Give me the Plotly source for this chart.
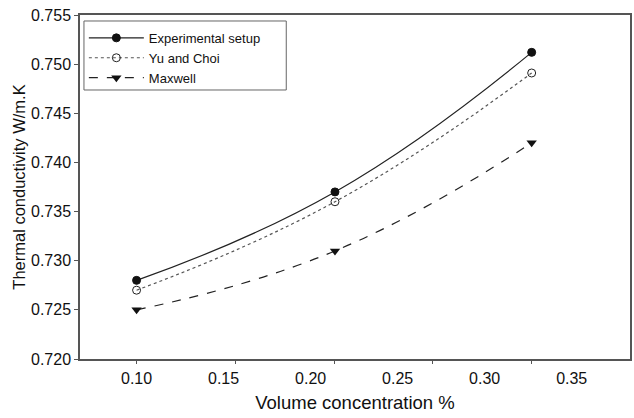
import plotly.graph_objects as go

# Data (x positions read against the tick-label scale of the original figure)
conc = [0.10, 0.214, 0.327]
experimental = [0.728, 0.737, 0.7512]
yu_choi = [0.727, 0.736, 0.7491]
maxwell = [0.725, 0.731, 0.742]

xtick_vals = [0.10, 0.15, 0.20, 0.25, 0.30, 0.35]
xtick_text = ["0.10", "0.15", "0.20", "0.25", "0.30", "0.35"]
xtick_marks = [0.10, 0.157, 0.214, 0.270, 0.327]
ytick_vals = [0.720, 0.725, 0.730, 0.735, 0.740, 0.745, 0.750, 0.755]

xr = [0.0675, 0.3835]
yr = [0.720, 0.755]
font = "Liberation Sans, Arial, Helvetica, sans-serif"

fig = go.Figure()
fig.add_trace(go.Scatter(
    x=conc, y=experimental, name="Experimental setup", mode="lines+markers",
    line=dict(color="#222", width=1.2, shape="spline", smoothing=1.3),
    marker=dict(symbol="circle", size=8, color="#111", line=dict(color="#111", width=1))))
fig.add_trace(go.Scatter(
    x=conc, y=yu_choi, name="Yu and Choi", mode="lines+markers",
    line=dict(color="#555", width=1.2, dash="dot", shape="spline", smoothing=1.3),
    marker=dict(symbol="circle-open", size=8, color="#222", line=dict(width=1))))
fig.add_trace(go.Scatter(
    x=conc, y=maxwell, name="Maxwell", mode="lines+markers",
    line=dict(color="#222", width=1.2, dash="dash", shape="spline", smoothing=1.3),
    marker=dict(symbol="triangle-down", size=9, color="#111")))
# invisible trace on overlay axis to carry its tick marks
fig.add_trace(go.Scatter(x=[xr[0]], y=[yr[0]], xaxis="x2", mode="markers",
                         marker=dict(opacity=0), showlegend=False, hoverinfo="skip"))

fig.update_layout(
    width=634, height=418,
    margin=dict(l=80, r=2, t=15, b=59),
    paper_bgcolor="white", plot_bgcolor="white",
    font=dict(family=font, color="#111", size=16),
    xaxis=dict(range=xr, tickvals=xtick_vals, ticktext=xtick_text,
               ticks="outside", ticklen=4, tickcolor="rgba(0,0,0,0)",
               showgrid=False, zeroline=False, showline=True, linecolor="#555",
               linewidth=1.5, mirror=True, tickfont=dict(size=16),
               title=dict(text="Volume concentration %", font=dict(size=18.5), standoff=10)),
    xaxis2=dict(range=xr, overlaying="x", anchor="y", side="bottom", tickvals=xtick_marks,
                showticklabels=False, ticks="outside", ticklen=4, tickcolor="#555",
                showgrid=False, zeroline=False, showline=False),
    yaxis=dict(range=yr, tickvals=ytick_vals, tickformat=".3f", ticks="outside",
               ticklen=4, tickcolor="#555", showgrid=False, zeroline=False,
               showline=True, linecolor="#555", linewidth=1.5, mirror=True,
               tickfont=dict(size=16),
               title=dict(text="Thermal conductivity W/m.K", font=dict(size=16.5), standoff=1)),
    legend=dict(x=0.007, y=0.977, xanchor="left", yanchor="top",
                borderwidth=0, bgcolor="rgba(0,0,0,0)",
                font=dict(size=13), tracegroupgap=0, itemwidth=55),
    shapes=[dict(type="rect", xref="paper", yref="paper", x0=0.0072, x1=0.375,
                 y0=0.782, y1=0.9826, line=dict(color="#666", width=1),
                 fillcolor="white", layer="below")],
    showlegend=True,
)

fig.write_html("out.html")
